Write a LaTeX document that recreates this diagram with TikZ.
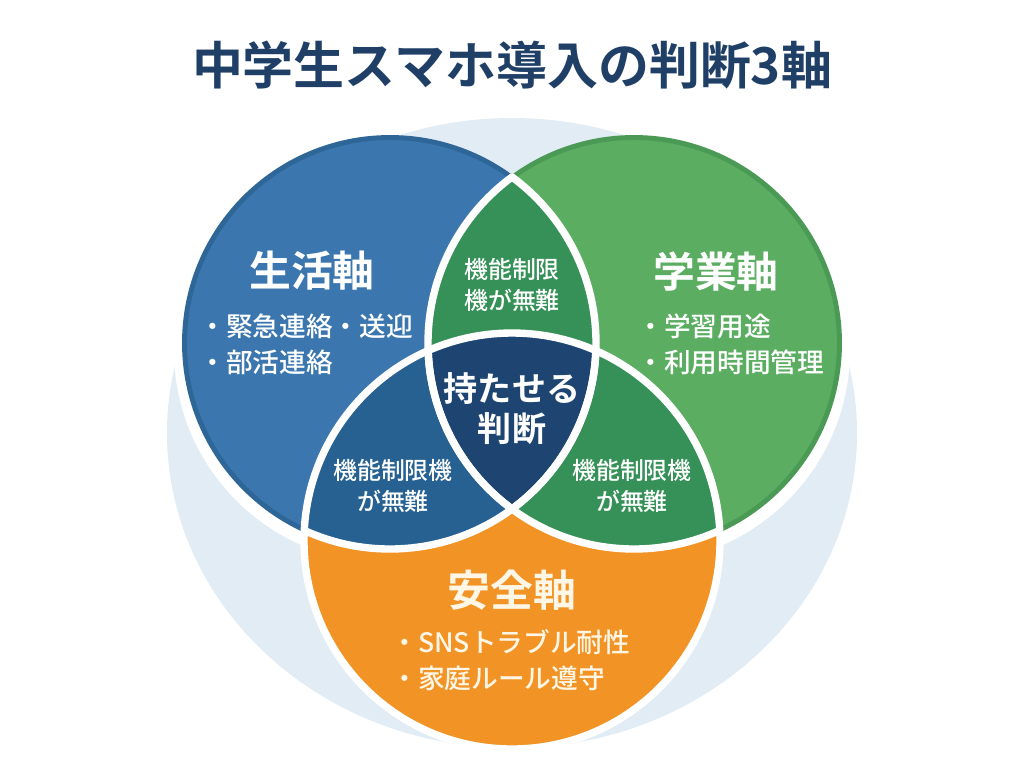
\documentclass[tikz,border=0pt]{standalone}
\usepackage{fontspec}
\setmainfont{Noto Sans CJK JP Medium}
\newfontfamily\boldfont{Noto Sans CJK JP Bold}
\usepackage{xcolor}
\definecolor{backblue}{HTML}{E2ECF5}
\definecolor{lifeblue}{HTML}{3B77AE}
\definecolor{lifeedge}{HTML}{2F6698}
\definecolor{studygreen}{HTML}{5BAD62}
\definecolor{studyedge}{HTML}{4A9A55}
\definecolor{safeorange}{HTML}{F29326}
\definecolor{mixblue}{HTML}{266191}
\definecolor{mixgreen}{HTML}{359157}
\definecolor{coreblue}{HTML}{1E4571}
\definecolor{titleblue}{HTML}{1F3F66}
\definecolor{cream}{HTML}{FFF6E6}

\begin{document}
\begin{tikzpicture}[x=0.02cm, y=-0.02cm,
    head/.style = {text=white, font=\fontsize{23.8}{28}\selectfont},
    list/.style = {text=white, anchor=west, align=left, inner sep=0pt, font=\fontsize{15.2}{20.4}\selectfont},
    small/.style = {text=white, align=center, font=\fontsize{13.6}{17.2}\selectfont},
    ring/.style = {draw=white, line width=4.2pt}]

    \useasboundingbox (0, 0) rectangle (1024, 765);

    \coordinate (life) at (390, 343);
    \coordinate (study) at (634, 343);
    \coordinate (safe) at (512, 541);

    \fill [backblue] (512, 433) ellipse (345 and 315);

    % white edge, lower side only
    \fill [white] (387, 350) circle (213);
    \fill [white] (637, 350) circle (213);
    \fill [lifeblue, draw=lifeedge, line width=2.8pt] (life) circle (205.5);
    \fill [studygreen, draw=studyedge, line width=2.8pt] (study) circle (205.5);
    \fill [safeorange] (safe) circle (208);

    \begin{scope}
        \clip (life) circle (208);
        \fill [mixgreen] (study) circle (208);
        \fill [mixblue] (safe) circle (208);
    \end{scope}
    \begin{scope}
        \clip (study) circle (208);
        \fill [mixgreen] (safe) circle (208);
        \clip (life) circle (208);
        \fill [coreblue] (safe) circle (208);
    \end{scope}

    % white lines
    \begin{scope}
        \clip (study) circle (208);
        \draw [ring] (life) circle (206);
    \end{scope}
    \begin{scope}
        \clip (safe) circle (208);
        \draw [ring] (life) circle (206);
    \end{scope}
    \begin{scope}
        \clip (life) circle (208);
        \draw [ring] (study) circle (206);
    \end{scope}
    \begin{scope}
        \clip (safe) circle (208);
        \draw [ring] (study) circle (206);
    \end{scope}
    \draw [ring] (safe) circle (208);

    \node [text=titleblue, font=\fontsize{29}{34}\selectfont\boldfont] (title) at (512, 65) {中学生スマホ導入の判断3軸};

    \node [head] (lifehead) at (312, 271) {\boldfont 生活軸};
    \node [list] (lifelist) at (199, 344) {・緊急連絡・送迎\\・部活連絡};

    \node [head] (studyhead) at (716, 271) {\boldfont 学業軸};
    \node [list] (studylist) at (637, 344) {・学習用途\\・利用時間管理};

    \node [head, text=cream, font=\fontsize{24.4}{28}\selectfont] (safehead) at (512, 590) {\boldfont 安全軸};
    \node [list, text=cream] (safelist) at (391, 660) {・SNSトラブル耐性\\・家庭ルール遵守};

    \node [small] (toplens) at (512, 285) {機能制限\\機が無難};
    \node [small] (leftlens) at (393, 486) {機能制限機\\が無難};
    \node [small] (rightlens) at (632, 486) {機能制限機\\が無難};

    \node [text=white, align=center, font=\fontsize{19.4}{22.8}\selectfont] (core) at (512, 409) {\boldfont 持たせる\\\boldfont 判断};

\end{tikzpicture}
\end{document}
